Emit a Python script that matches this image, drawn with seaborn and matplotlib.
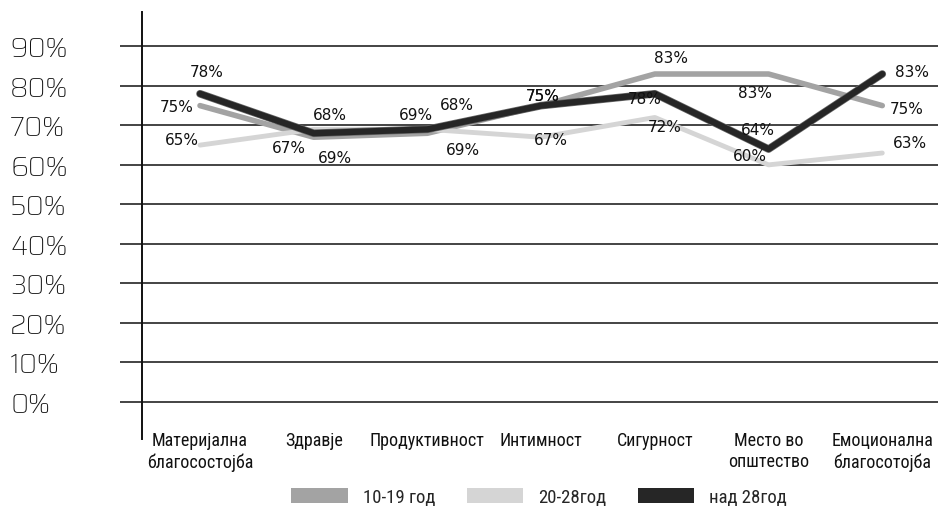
import pandas as pd
import matplotlib
matplotlib.use('Agg')
import matplotlib.pyplot as plt
import matplotlib.patheffects as pe
from matplotlib.patches import Patch
import seaborn as sns

# data
categories = ['Материјална\nблагосостојба', 'Здравје', 'Продуктивност', 'Интимност',
              'Сигурност', 'Место во\nопштество', 'Емоционална\nблагосотојба']
groups = ['10-19 год', '20-28год', 'над 28год']
g10_19 = [75, 67, 68, 75, 83, 83, 75]
g20_28 = [65, 69, 69, 67, 72, 60, 63]
over28 = [78, 68, 69, 75, 78, 64, 83]
yticks = [0, 10, 20, 30, 40, 50, 60, 70, 80, 90]

# label offsets in pixels (dx, dy) from each point
offsets = {
    '10-19 год': [(-23, -1), (-25, -10), (29, 29), (2, 10), (16, 17), (-14, -18), (24, -3)],
    '20-28год': [(-18, 6), (21, -28), (36, -20), (10, -2), (10, -9), (-19, 9), (28, 11)],
    'над 28год': [(7, 22), (16, 19), (-11, 15), (2, 10), (-10, -5), (-11, 20), (30, 3)],
}
styles = {
    '10-19 год': dict(color='#a3a3a3', lw=4.0),
    '20-28год': dict(color='#d5d5d5', lw=3.5),
    'над 28год': dict(color='#262626', lw=4.5),
}

df = pd.DataFrame({
    'category': categories * 3,
    'group': [g for g in groups for _ in categories],
    'value': g10_19 + g20_28 + over28,
})

sns.set_theme(style='white')
cond = ['Roboto Condensed', 'DejaVu Sans']

fig = plt.figure(figsize=(9.38, 5.10), dpi=100)
ax = fig.add_axes([142 / 938, 1 - 440 / 510, 1 - 142 / 938, (440 - 13) / 510])

for g in groups:
    sub = df[df['group'] == g]
    effects = None
    if g == 'над 28год':
        effects = [pe.Stroke(linewidth=5.5, foreground='#6a6a6a'), pe.Normal()]
    sns.lineplot(data=sub, x='category', y='value', sort=False, ax=ax,
                 color=styles[g]['color'], lw=styles[g]['lw'],
                 path_effects=effects, zorder=3)
    for cat, val, (dx, dy) in zip(sub['category'], sub['value'], offsets[g]):
        ax.annotate(f'{val}%', (cat, val), xytext=(dx, dy), textcoords='offset pixels',
                    ha='center', va='center', fontsize=11, color='#111111',
                    family='DejaVu Sans', zorder=4)

ax.set_xlim(-0.51, 6.49)
ax.set_ylim(-9.4, 98.7)
ax.set_yticks(yticks)
ax.set_yticklabels([f'{t}%' for t in yticks], ha='left', fontsize=19.5,
                   family=['Saira', 'DejaVu Sans'], fontweight=300, color='#111111')
ax.yaxis.grid(True, color='#111111', lw=1.1)
ax.xaxis.grid(False)
ax.tick_params(axis='y', length=16, width=1.1, color='#111111', pad=79, direction='out', left=True)
ax.tick_params(axis='x', length=0, pad=-6)
for lab in ax.get_xticklabels():
    lab.set_family(cond)
    lab.set_fontsize(13)
    lab.set_color('#111111')
    lab.set_linespacing(1.25)
ax.set_xlabel('')
ax.set_ylabel('')
for side in ['top', 'right', 'bottom']:
    ax.spines[side].set_visible(False)
ax.spines['left'].set_color('#111111')
ax.spines['left'].set_linewidth(1.4)

handles = [Patch(facecolor=styles[g]['color'], edgecolor='none', label=g) for g in groups]
fig.legend(handles=handles, loc='center', bbox_to_anchor=(0.575, 1 - 498 / 510), ncol=3,
           frameon=False, handlelength=3.0, handleheight=0.85, handletextpad=0.8,
           columnspacing=1.7, borderpad=0.2, prop={'family': cond, 'size': 13.5})

fig.savefig('out.png', dpi=100, facecolor='white')
